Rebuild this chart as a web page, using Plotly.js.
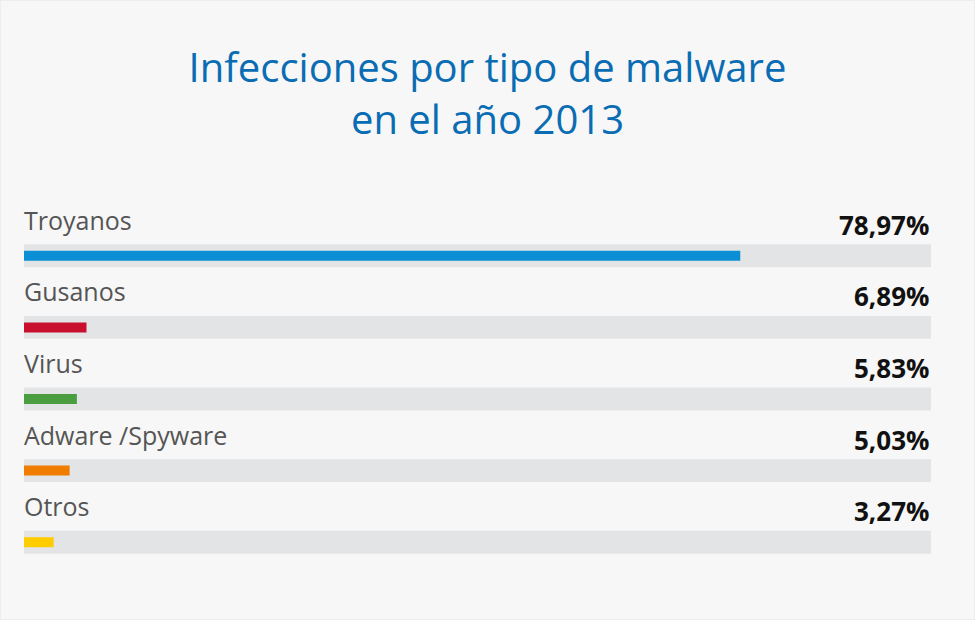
<!DOCTYPE html>
<html>
<head>
<meta charset="utf-8">
<script src="https://cdn.plot.ly/plotly-3.0.1.min.js"></script>
<style>
  html, body { margin: 0; padding: 0; background: #f7f7f7; }
  #chart { width: 975px; height: 620px; }
</style>
</head>
<body>
<div id="chart"></div>
<script>
const categories = ["Troyanos", "Gusanos", "Virus", "Adware /Spyware", "Otros"];
const values = [78.97, 6.89, 5.83, 5.03, 3.27];
const valueLabels = ["78,97%", "6,89%", "5,83%", "5,03%", "3,27%"];
const barColors = ["#0a8fd5", "#c8102e", "#4a9e3f", "#f07d00", "#ffcc00"];
const trackMax = 100;

const track = {
  type: "bar",
  orientation: "h",
  y: categories,
  x: categories.map(() => trackMax),
  width: 0.32,
  marker: { color: "#e3e4e6" },
  hoverinfo: "skip",
  showlegend: false
};

const bars = {
  type: "bar",
  orientation: "h",
  y: categories,
  x: values,
  width: 0.14,
  marker: { color: barColors },
  hoverinfo: "skip",
  showlegend: false
};

const annotations = [];
categories.forEach((c, i) => {
  annotations.push({
    x: 0, y: c, xref: "x", yref: "y",
    text: c, showarrow: false,
    xanchor: "left", yanchor: "middle", yshift: 36, xshift: -2,
    font: { family: "Open Sans, sans-serif", size: 25, color: "#555555" }
  });
  annotations.push({
    x: trackMax, y: c, xref: "x", yref: "y",
    text: "<b>" + valueLabels[i] + "</b>", showarrow: false,
    xanchor: "right", yanchor: "middle", yshift: 31, xshift: 0,
    font: { family: "Open Sans, sans-serif", size: 26, color: "#111111" }
  });
});

const layout = {
  width: 975, height: 620,
  paper_bgcolor: "#f7f7f7",
  plot_bgcolor: "rgba(0,0,0,0)",
  margin: { l: 24, r: 44, t: 220, b: 42, pad: 0 },
  barmode: "overlay",
  title: {
    text: "Infecciones por tipo de malware<br>en el año 2013",
    x: 0.5, xref: "container", xanchor: "center",
    y: 0.868, yref: "container", yanchor: "top",
    font: { family: "Open Sans, sans-serif", size: 40, color: "#0a6db3" }
  },
  xaxis: {
    range: [0, trackMax], fixedrange: true,
    showgrid: false, zeroline: false, showticklabels: false, showline: false
  },
  yaxis: {
    type: "category", categoryorder: "array", categoryarray: categories,
    range: [4.5, -0.5], autorange: false,
    showgrid: false, zeroline: false, showticklabels: false, showline: false
  },
  annotations: annotations,
  shapes: [{
    type: "rect", xref: "paper", yref: "paper",
    x0: -24/907, x1: 1 + 44/907, y0: -42/358, y1: 1 + 220/358,
    line: { color: "#ededed", width: 2 }, fillcolor: "rgba(0,0,0,0)", layer: "below"
  }]
};

Plotly.newPlot("chart", [track, bars], layout, { displayModeBar: false, staticPlot: true });
</script>
</body>
</html>
